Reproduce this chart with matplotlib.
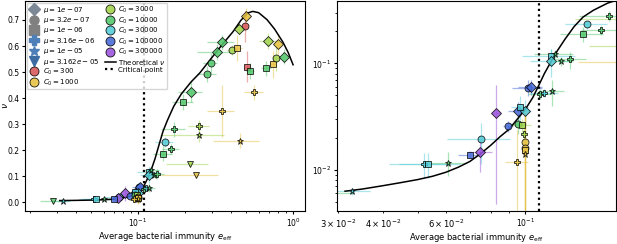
import numpy as np
import matplotlib
matplotlib.use('Agg')
import matplotlib.pyplot as plt
from matplotlib.lines import Line2D

# measured points: average immunity, nu, their errors, mutation rate, C0
e_eff = [0.498, 0.49, 0.451, 0.347, 0.322, 0.405, 0.437, 0.294, 0.28, 0.502,
         0.528, 0.667, 0.746, 0.693, 0.796, 0.78, 0.871, 0.562, 0.22, 0.196,
         0.347, 0.171, 0.249, 0.248, 0.455, 0.149, 0.163, 0.145, 0.216, 0.235,
         0.118, 0.118, 0.121, 0.126, 0.133, 0.1015, 0.1035, 0.1096, 0.113, 0.1186,
         0.0829, 0.0952, 0.1, 0.0964, 0.0895, 0.0952, 0.098, 0.099, 0.0996, 0.0996,
         0.0998, 0.0996, 0.0948, 0.0753, 0.0746, 0.0699, 0.0608, 0.0522, 0.0535, 0.0327,
         0.0282]
nu = [0.715, 0.676, 0.666, 0.614, 0.578, 0.584, 0.592, 0.535, 0.492, 0.52,
      0.504, 0.514, 0.529, 0.62, 0.608, 0.553, 0.559, 0.422, 0.425, 0.384,
      0.351, 0.28, 0.294, 0.26, 0.237, 0.232, 0.205, 0.187, 0.146, 0.103,
      0.116, 0.105, 0.123, 0.105, 0.109, 0.059, 0.060, 0.0518, 0.0529, 0.0544,
      0.0338, 0.0355, 0.0355, 0.0393, 0.0256, 0.0269, 0.0263, 0.0218, 0.0184, 0.0162,
      0.0155, 0.0141, 0.0119, 0.0194, 0.0146, 0.0139, 0.0117, 0.0113, 0.0113, 0.0063,
      0.0060]
e_err = [0.02, 0.02, 0.02, 0.07, 0.08, 0.03, 0.03, 0.03, 0.04, 0.02,
         0.03, 0.05, 0.03, 0.09, 0.04, 0.04, 0.05, 0.08, 0.04, 0.03,
         0.07, 0.03, 0.04, 0.11, 0.15, 0.02, 0.02, 0.02, 0.065, 0.095,
         0.02, 0.015, 0.015, 0.01, 0.015, 0.01, 0.008, 0.008, 0.01, 0.01,
         0.002, 0.006, 0.004, 0.005, 0.003, 0.005, 0.006, 0.001, 0.001, 0.001,
         0.001, 0.001, 0.007, 0.015, 0.006, 0.005, 0.008, 0.008, 0.012, 0.004,
         0.005]
nu_err = [0.03, 0.06, 0.02, 0.03, 0.03, 0.02, 0.05, 0.04, 0.03, 0.06,
          0.03, 0.03, 0.05, 0.03, 0.04, 0.05, 0.03, 0.03, 0.04, 0.03,
          0.1, 0.03, 0.02, 0.03, 0.03, 0.02, 0.02, 0.03, 0.01, 0.01,
          0.02, 0.03, 0.01, 0.01, 0.02, 0.01, 0.01, 0.006, 0.005, 0.015,
          0.029, 0.008, 0.01, 0.01, 0.003, 0.005, 0.004, 0.004, 0.02, 0.02,
          0.02, 0.02, 0.012, 0.008, 0.005, 0.001, 0.003, 0.003, 0.003, 0.0005,
          0.0005]
mu = [1e-7, 3.2e-7, 1e-7, 1e-7, 1e-7, 3.2e-7, 1e-6, 3.2e-7, 3.2e-7, 1e-6,
      1e-6, 1e-6, 1e-6, 1e-7, 1e-7, 3.2e-7, 1e-7, 3.16e-6, 1e-7, 1e-6,
      3.16e-6, 3.16e-6, 3.16e-6, 1e-5, 1e-5, 3.2e-7, 3.16e-6, 1e-6, 3.162e-5, 3.162e-5,
      1e-6, 1e-7, 1e-5, 1e-5, 3.16e-6, 3.2e-7, 1e-7, 3.16e-6, 3.16e-6, 1e-5,
      1e-7, 1e-7, 1e-7, 1e-6, 3.2e-7, 3.2e-7, 1e-6, 3.16e-6, 3.2e-7, 3.2e-7,
      1e-6, 1e-5, 3.16e-6, 3.2e-7, 1e-7, 1e-6, 1e-5, 3.16e-6, 1e-6, 1e-5,
      3.162e-5]
C0 = [1000, 300, 3000, 10000, 10000, 3000, 1000, 10000, 10000, 300,
      10000, 10000, 1000, 3000, 1000, 3000, 10000, 1000, 10000, 10000,
      1000, 10000, 3000, 3000, 1000, 30000, 10000, 10000, 3000, 1000,
      30000, 30000, 10000, 10000, 10000, 100000, 100000, 10000, 30000, 10000,
      300000, 100000, 30000, 30000, 100000, 10000, 3000, 3000, 1000, 1000,
      1000, 1000, 1000, 30000, 300000, 100000, 10000, 30000, 30000, 30000,
      10000]

# theoretical curve
theory_e = [0.0313, 0.035, 0.04, 0.045, 0.05, 0.055, 0.06, 0.065, 0.07, 0.075,
            0.08, 0.085, 0.09, 0.095, 0.1, 0.105, 0.109, 0.113, 0.118, 0.123,
            0.129, 0.137, 0.145, 0.155, 0.17, 0.19, 0.22, 0.25, 0.3, 0.35,
            0.41, 0.46, 0.51, 0.55, 0.6, 0.68, 0.76, 0.86, 0.93, 1.0]
theory_nu = [0.0063, 0.0066, 0.0071, 0.0076, 0.0081, 0.0087, 0.0095, 0.0106, 0.0120, 0.0142,
             0.0170, 0.0205, 0.0240, 0.0300, 0.0370, 0.0480, 0.0620, 0.0800, 0.1040, 0.1320,
             0.1680, 0.2220, 0.2720, 0.3150, 0.3680, 0.4150, 0.4620, 0.4960, 0.5560, 0.6060,
             0.6550, 0.6980, 0.7270, 0.7330, 0.7280, 0.7010, 0.6650, 0.6150, 0.5750, 0.5280]
e_crit = 0.109

mu_list = [1e-7, 3.2e-7, 1e-6, 3.16e-6, 1e-5, 3.162e-5]
mu_names = ['1e-07', '3.2e-07', '1e-06', '3.16e-06', '1e-05', '3.162e-05']
c0_list = [300, 1000, 3000, 10000, 30000, 100000, 300000]

markers = {1e-7: 'D', 3.2e-7: 'o', 1e-6: 's', 3.16e-6: 'P', 1e-5: '*', 3.162e-5: 'v'}
msizes = {1e-7: 5, 3.2e-7: 5, 1e-6: 5, 3.16e-6: 5, 1e-5: 5, 3.162e-5: 5}
mu_leg_colors = ['#7d8896', '#808080', '#808080', '#4f7fb8', '#4f7fb8', '#3d6ca3']
c0_colors = {300: '#d95a5a', 1000: '#e6c244', 3000: '#a3d44e', 10000: '#55c86e',
             30000: '#55ccd6', 100000: '#4a6cd8', 300000: '#9b55dc'}

plt.rcParams['font.size'] = 6
plt.rcParams['mathtext.fontset'] = 'dejavusans'

fig = plt.figure(figsize=(6.17, 2.44), dpi=100)
ax1 = fig.add_axes([0.0405, 0.135, 0.4535, 0.861])
ax2 = fig.add_axes([0.546, 0.135, 0.452, 0.861])


def draw(ax):
    ax.plot(theory_e, theory_nu, color='k', lw=1.1, zorder=3)
    ax.axvline(e_crit, color='k', ls=(0, (1, 1.5)), lw=1.6, zorder=2)
    for i in range(len(e_eff)):
        c = c0_colors[C0[i]]
        ax.errorbar(e_eff[i], nu[i], xerr=e_err[i], yerr=nu_err[i], fmt='none',
                    ecolor=c, alpha=0.5, lw=0.9, zorder=1)
        ax.plot(e_eff[i], nu[i], ls='none', marker=markers[mu[i]], ms=msizes[mu[i]],
                mfc=c, mec='k', mew=0.6, alpha=0.85, zorder=4)
    ax.set_xscale('log')
    ax.set_xlabel(r'Average bacterial immunity $e_{\rm eff}$', fontsize=6, labelpad=0.5)
    ax.tick_params(labelsize=5.5, pad=1.5, length=2.5)
    ax.tick_params(which='minor', length=1.5)


draw(ax1)
ax1.set_xlim(0.0187, 1.19)
ax1.set_ylim(-0.034, 0.773)
ax1.set_yticks(np.arange(0, 0.71, 0.1))
ax1.set_ylabel(r'$\nu$', fontsize=6.5)
ax1.yaxis.set_label_coords(-0.055, 0.5)

draw(ax2)
ax2.set_yscale('log')
ax2.set_xlim(0.0297, 0.179)
ax2.set_ylim(0.0041, 0.385)

# legend
handles = []
for m, name, col in zip(mu_list, mu_names, mu_leg_colors):
    handles.append(Line2D([], [], ls='none', marker=markers[m], ms=6.5 if m != 1e-5 else 7.5,
                          color=col, label=r'$\mu = %s$' % name))
for c in c0_list:
    handles.append(Line2D([], [], ls='none', marker='o', ms=6.5, mfc=c0_colors[c], mec='k',
                          mew=0.6, alpha=0.9, label=r'$C_0 = %d$' % c))
handles.append(Line2D([], [], color='k', lw=1.1, label=r'Theoretical $\nu$'))
handles.append(Line2D([], [], color='k', lw=1.6, ls=(0, (1, 1.5)), label='Critical point'))
ax1.legend(handles=handles, loc='upper left', ncol=2, fontsize=5, handlelength=1.6,
           handletextpad=0.4, columnspacing=0.8, labelspacing=0.05, borderpad=0.25,
           borderaxespad=0.3, framealpha=0.8)

fig.savefig('out.png', dpi=100)
